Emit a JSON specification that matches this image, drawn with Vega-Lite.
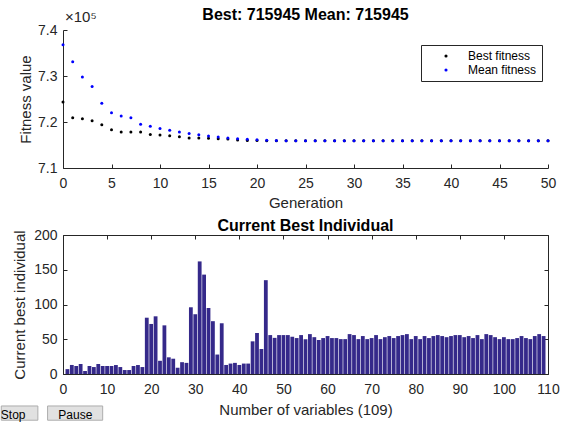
{
  "$schema": "https://vega.github.io/schema/vega-lite/v6.json",
  "padding": {"left": 0, "top": 7, "right": 5, "bottom": 0},
  "spacing": 8,
  "config": {
    "view": {"stroke": null},
    "font": "Liberation Sans",
    "axis": {
      "grid": false,
      "domainColor": "#262626",
      "tickColor": "#262626",
      "labelColor": "#262626",
      "titleColor": "#262626",
      "labelFontSize": 14,
      "titleFontSize": 15,
      "titleFontWeight": "normal",
      "tickSize": -4,
      "labelFlush": false,
      "labelOverlap": false
    },
    "axisX": {"labelPadding": 12, "titlePadding": 5},
    "axisY": {"labelPadding": 10, "titlePadding": 5},
    "title": {"fontSize": 16, "fontWeight": "bold", "color": "#000000"}
  },
  "datasets": {
    "fit": [
      {"generation": 0, "series": "Best fitness", "fitness": 724350},
      {"generation": 1, "series": "Best fitness", "fitness": 720900},
      {"generation": 2, "series": "Best fitness", "fitness": 720700},
      {"generation": 3, "series": "Best fitness", "fitness": 720250},
      {"generation": 4, "series": "Best fitness", "fitness": 719400},
      {"generation": 5, "series": "Best fitness", "fitness": 718300},
      {"generation": 6, "series": "Best fitness", "fitness": 717800},
      {"generation": 7, "series": "Best fitness", "fitness": 717800},
      {"generation": 8, "series": "Best fitness", "fitness": 717800},
      {"generation": 9, "series": "Best fitness", "fitness": 717300},
      {"generation": 10, "series": "Best fitness", "fitness": 717200},
      {"generation": 11, "series": "Best fitness", "fitness": 717000},
      {"generation": 12, "series": "Best fitness", "fitness": 716800},
      {"generation": 13, "series": "Best fitness", "fitness": 716500},
      {"generation": 14, "series": "Best fitness", "fitness": 716500},
      {"generation": 15, "series": "Best fitness", "fitness": 716450},
      {"generation": 16, "series": "Best fitness", "fitness": 716350},
      {"generation": 17, "series": "Best fitness", "fitness": 716300},
      {"generation": 18, "series": "Best fitness", "fitness": 716100},
      {"generation": 19, "series": "Best fitness", "fitness": 716000},
      {"generation": 20, "series": "Best fitness", "fitness": 715980},
      {"generation": 21, "series": "Best fitness", "fitness": 715945},
      {"generation": 22, "series": "Best fitness", "fitness": 715945},
      {"generation": 23, "series": "Best fitness", "fitness": 715945},
      {"generation": 24, "series": "Best fitness", "fitness": 715945},
      {"generation": 25, "series": "Best fitness", "fitness": 715945},
      {"generation": 26, "series": "Best fitness", "fitness": 715945},
      {"generation": 27, "series": "Best fitness", "fitness": 715945},
      {"generation": 28, "series": "Best fitness", "fitness": 715945},
      {"generation": 29, "series": "Best fitness", "fitness": 715945},
      {"generation": 30, "series": "Best fitness", "fitness": 715945},
      {"generation": 31, "series": "Best fitness", "fitness": 715945},
      {"generation": 32, "series": "Best fitness", "fitness": 715945},
      {"generation": 33, "series": "Best fitness", "fitness": 715945},
      {"generation": 34, "series": "Best fitness", "fitness": 715945},
      {"generation": 35, "series": "Best fitness", "fitness": 715945},
      {"generation": 36, "series": "Best fitness", "fitness": 715945},
      {"generation": 37, "series": "Best fitness", "fitness": 715945},
      {"generation": 38, "series": "Best fitness", "fitness": 715945},
      {"generation": 39, "series": "Best fitness", "fitness": 715945},
      {"generation": 40, "series": "Best fitness", "fitness": 715945},
      {"generation": 41, "series": "Best fitness", "fitness": 715945},
      {"generation": 42, "series": "Best fitness", "fitness": 715945},
      {"generation": 43, "series": "Best fitness", "fitness": 715945},
      {"generation": 44, "series": "Best fitness", "fitness": 715945},
      {"generation": 45, "series": "Best fitness", "fitness": 715945},
      {"generation": 46, "series": "Best fitness", "fitness": 715945},
      {"generation": 47, "series": "Best fitness", "fitness": 715945},
      {"generation": 48, "series": "Best fitness", "fitness": 715945},
      {"generation": 49, "series": "Best fitness", "fitness": 715945},
      {"generation": 50, "series": "Best fitness", "fitness": 715945},
      {"generation": 0, "series": "Mean fitness", "fitness": 736800},
      {"generation": 1, "series": "Mean fitness", "fitness": 733100},
      {"generation": 2, "series": "Mean fitness", "fitness": 729800},
      {"generation": 3, "series": "Mean fitness", "fitness": 727700},
      {"generation": 4, "series": "Mean fitness", "fitness": 724100},
      {"generation": 5, "series": "Mean fitness", "fitness": 722000},
      {"generation": 6, "series": "Mean fitness", "fitness": 721300},
      {"generation": 7, "series": "Mean fitness", "fitness": 720900},
      {"generation": 8, "series": "Mean fitness", "fitness": 719500},
      {"generation": 9, "series": "Mean fitness", "fitness": 719100},
      {"generation": 10, "series": "Mean fitness", "fitness": 718600},
      {"generation": 11, "series": "Mean fitness", "fitness": 718200},
      {"generation": 12, "series": "Mean fitness", "fitness": 717800},
      {"generation": 13, "series": "Mean fitness", "fitness": 717500},
      {"generation": 14, "series": "Mean fitness", "fitness": 717250},
      {"generation": 15, "series": "Mean fitness", "fitness": 716950},
      {"generation": 16, "series": "Mean fitness", "fitness": 716750},
      {"generation": 17, "series": "Mean fitness", "fitness": 716500},
      {"generation": 18, "series": "Mean fitness", "fitness": 716350},
      {"generation": 19, "series": "Mean fitness", "fitness": 716250},
      {"generation": 20, "series": "Mean fitness", "fitness": 716150},
      {"generation": 21, "series": "Mean fitness", "fitness": 716050},
      {"generation": 22, "series": "Mean fitness", "fitness": 716000},
      {"generation": 23, "series": "Mean fitness", "fitness": 715945},
      {"generation": 24, "series": "Mean fitness", "fitness": 715945},
      {"generation": 25, "series": "Mean fitness", "fitness": 715945},
      {"generation": 26, "series": "Mean fitness", "fitness": 715945},
      {"generation": 27, "series": "Mean fitness", "fitness": 715945},
      {"generation": 28, "series": "Mean fitness", "fitness": 715945},
      {"generation": 29, "series": "Mean fitness", "fitness": 715945},
      {"generation": 30, "series": "Mean fitness", "fitness": 715945},
      {"generation": 31, "series": "Mean fitness", "fitness": 715945},
      {"generation": 32, "series": "Mean fitness", "fitness": 715945},
      {"generation": 33, "series": "Mean fitness", "fitness": 715945},
      {"generation": 34, "series": "Mean fitness", "fitness": 715945},
      {"generation": 35, "series": "Mean fitness", "fitness": 715945},
      {"generation": 36, "series": "Mean fitness", "fitness": 715945},
      {"generation": 37, "series": "Mean fitness", "fitness": 715945},
      {"generation": 38, "series": "Mean fitness", "fitness": 715945},
      {"generation": 39, "series": "Mean fitness", "fitness": 715945},
      {"generation": 40, "series": "Mean fitness", "fitness": 715945},
      {"generation": 41, "series": "Mean fitness", "fitness": 715945},
      {"generation": 42, "series": "Mean fitness", "fitness": 715945},
      {"generation": 43, "series": "Mean fitness", "fitness": 715945},
      {"generation": 44, "series": "Mean fitness", "fitness": 715945},
      {"generation": 45, "series": "Mean fitness", "fitness": 715945},
      {"generation": 46, "series": "Mean fitness", "fitness": 715945},
      {"generation": 47, "series": "Mean fitness", "fitness": 715945},
      {"generation": 48, "series": "Mean fitness", "fitness": 715945},
      {"generation": 49, "series": "Mean fitness", "fitness": 715945},
      {"generation": 50, "series": "Mean fitness", "fitness": 715945}
    ],
    "bars": [
      {"variable": 1, "value": 7}, {"variable": 2, "value": 13}, {"variable": 3, "value": 11.5}, {"variable": 4, "value": 14.4},
      {"variable": 5, "value": 4.3}, {"variable": 6, "value": 11.5}, {"variable": 7, "value": 10}, {"variable": 8, "value": 14.4},
      {"variable": 9, "value": 11.5}, {"variable": 10, "value": 11.5}, {"variable": 11, "value": 11.5}, {"variable": 12, "value": 12.9},
      {"variable": 13, "value": 10}, {"variable": 14, "value": 5.7}, {"variable": 15, "value": 5.7}, {"variable": 16, "value": 11.5},
      {"variable": 17, "value": 12.9}, {"variable": 18, "value": 10}, {"variable": 19, "value": 81}, {"variable": 20, "value": 72},
      {"variable": 21, "value": 83}, {"variable": 22, "value": 19}, {"variable": 23, "value": 70}, {"variable": 24, "value": 24},
      {"variable": 25, "value": 22}, {"variable": 26, "value": 9}, {"variable": 27, "value": 17}, {"variable": 28, "value": 16},
      {"variable": 29, "value": 96}, {"variable": 30, "value": 86}, {"variable": 31, "value": 162}, {"variable": 32, "value": 143},
      {"variable": 33, "value": 95}, {"variable": 34, "value": 76}, {"variable": 35, "value": 28}, {"variable": 36, "value": 73},
      {"variable": 37, "value": 13}, {"variable": 38, "value": 15}, {"variable": 39, "value": 16}, {"variable": 40, "value": 13},
      {"variable": 41, "value": 15}, {"variable": 42, "value": 15}, {"variable": 43, "value": 47}, {"variable": 44, "value": 59},
      {"variable": 45, "value": 36}, {"variable": 46, "value": 135}, {"variable": 47, "value": 56}, {"variable": 48, "value": 52},
      {"variable": 49, "value": 56}, {"variable": 50, "value": 56}, {"variable": 51, "value": 56}, {"variable": 52, "value": 53.6},
      {"variable": 53, "value": 51.7}, {"variable": 54, "value": 56}, {"variable": 55, "value": 50}, {"variable": 56, "value": 57.4},
      {"variable": 57, "value": 53}, {"variable": 58, "value": 48.8}, {"variable": 59, "value": 51.7}, {"variable": 60, "value": 54.6},
      {"variable": 61, "value": 51.7}, {"variable": 62, "value": 51.7}, {"variable": 63, "value": 50.2}, {"variable": 64, "value": 50.2},
      {"variable": 65, "value": 57.4}, {"variable": 66, "value": 56}, {"variable": 67, "value": 50.2}, {"variable": 68, "value": 54.6},
      {"variable": 69, "value": 50.2}, {"variable": 70, "value": 51.7}, {"variable": 71, "value": 56}, {"variable": 72, "value": 50.2},
      {"variable": 73, "value": 53}, {"variable": 74, "value": 54.6}, {"variable": 75, "value": 51.7}, {"variable": 76, "value": 54.6},
      {"variable": 77, "value": 56}, {"variable": 78, "value": 57.4}, {"variable": 79, "value": 50.2}, {"variable": 80, "value": 54.6},
      {"variable": 81, "value": 50.2}, {"variable": 82, "value": 54.6}, {"variable": 83, "value": 51.7}, {"variable": 84, "value": 54.6},
      {"variable": 85, "value": 56}, {"variable": 86, "value": 54.6}, {"variable": 87, "value": 53}, {"variable": 88, "value": 54.6},
      {"variable": 89, "value": 56}, {"variable": 90, "value": 56}, {"variable": 91, "value": 53}, {"variable": 92, "value": 54.6},
      {"variable": 93, "value": 51.7}, {"variable": 94, "value": 56}, {"variable": 95, "value": 50.2}, {"variable": 96, "value": 57.4},
      {"variable": 97, "value": 56}, {"variable": 98, "value": 53}, {"variable": 99, "value": 50.2}, {"variable": 100, "value": 53},
      {"variable": 101, "value": 50.2}, {"variable": 102, "value": 50.2}, {"variable": 103, "value": 51.7}, {"variable": 104, "value": 54.6},
      {"variable": 105, "value": 51.7}, {"variable": 106, "value": 50.2}, {"variable": 107, "value": 54.6}, {"variable": 108, "value": 57.4},
      {"variable": 109, "value": 54.6}
    ],
    "buttons": [
      {"button": "Stop"},
      {"button": "Pause"}
    ]
  },
  "vconcat": [
    {
      "width": 485,
      "height": 138,
      "title": {"text": "Best: 715945 Mean: 715945", "offset": -13},
      "layer": [
        {
          "data": {"name": "fit"},
          "mark": {"type": "point", "filled": true, "size": 9, "opacity": 1},
          "encoding": {
            "x": {"field": "generation", "type": "quantitative",
                  "scale": {"domain": [0, 50], "nice": false},
                  "axis": {"title": "Generation", "values": [0, 5, 10, 15, 20, 25, 30, 35, 40, 45, 50]}},
            "y": {"field": "fitness", "type": "quantitative",
                  "scale": {"domain": [710000, 740000], "nice": false, "zero": false},
                  "axis": {"title": "Fitness value", "titlePadding": 4, "values": [710000, 720000, 730000, 740000],
                           "labelExpr": "format(datum.value/100000, '.1f')"}},
            "color": {"field": "series", "type": "nominal",
                      "scale": {"domain": ["Best fitness", "Mean fitness"], "range": ["#000000", "#0000ff"]},
                      "legend": {"title": null, "orient": "none", "legendX": 358, "legendY": 15,
                                 "strokeColor": "#262626", "fillColor": "#ffffff", "padding": 5,
                                 "symbolType": "circle", "symbolSize": 10, "symbolOffset": 14,
                                 "labelOffset": 16, "labelFontSize": 12, "labelColor": "#000000", "rowPadding": 2}}
          }
        },
        {
          "data": {"values": [{"label": "×10⁵", "g": 0, "f": 740000}]},
          "mark": {"type": "text", "align": "left", "baseline": "bottom", "dx": 2, "dy": -5, "fontSize": 15, "color": "#262626"},
          "encoding": {
            "x": {"field": "g", "type": "quantitative"},
            "y": {"field": "f", "type": "quantitative"},
            "text": {"field": "label"}
          }
        }
      ]
    },
    {
      "width": 485,
      "height": 139,
      "title": {"text": "Current Best Individual", "offset": -6},
      "layer": [
        {
          "data": {"name": "bars"},
          "mark": {"type": "bar", "width": 3.8, "color": "#35298a"},
          "encoding": {
            "x": {"field": "variable", "type": "quantitative",
                  "scale": {"domain": [0, 110], "nice": false, "padding": 0},
                  "axis": {"title": "Number of variables (109)", "titlePadding": 6, "values": [0, 10, 20, 30, 40, 50, 60, 70, 80, 90, 100, 110]}},
            "y": {"field": "value", "type": "quantitative",
                  "scale": {"domain": [0, 200], "nice": false},
                  "axis": {"title": "Current best individual", "titlePadding": 6, "values": [0, 50, 100, 150, 200]}}
          }
        },
        {
          "data": {"name": "bars"},
          "mark": {"type": "bar", "width": 3.8, "opacity": 0},
          "encoding": {
            "x": {"field": "variable", "type": "quantitative",
                  "scale": {"domain": [0, 110], "nice": false, "padding": 0},
                  "axis": {"orient": "top", "labels": false, "title": null, "values": [0, 10, 20, 30, 40, 50, 60, 70, 80, 90, 100, 110]}},
            "y": {"field": "value", "type": "quantitative",
                  "scale": {"domain": [0, 200], "nice": false},
                  "axis": {"orient": "right", "labels": false, "title": null, "values": [0, 50, 100, 150, 200]}}
          }
        },
        {
          "data": {"name": "buttons"},
          "transform": [{"filter": "datum.button == 'Stop'"}],
          "mark": {"type": "rect", "fill": "#e1e1e1", "stroke": "#adadad", "strokeWidth": 1},
          "encoding": {
            "x": {"datum": -14.0, "type": "quantitative", "axis": null},
            "x2": {"datum": -5.7},
            "y": {"datum": -46, "type": "quantitative", "axis": null},
            "y2": {"datum": -66.5}
          }
        },
        {
          "data": {"name": "buttons"},
          "transform": [{"filter": "datum.button == 'Pause'"}],
          "mark": {"type": "rect", "fill": "#e1e1e1", "stroke": "#adadad", "strokeWidth": 1},
          "encoding": {
            "x": {"datum": -3.5, "type": "quantitative", "axis": null},
            "x2": {"datum": 9.0},
            "y": {"datum": -46, "type": "quantitative", "axis": null},
            "y2": {"datum": -66.5}
          }
        },
        {
          "data": {"name": "buttons"},
          "transform": [{"filter": "datum.button == 'Stop'"}],
          "mark": {"type": "text", "fontSize": 12, "color": "#000000", "baseline": "middle", "align": "center"},
          "encoding": {
            "x": {"datum": -11.3, "type": "quantitative", "axis": null},
            "y": {"datum": -59, "type": "quantitative", "axis": null},
            "text": {"field": "button"}
          }
        },
        {
          "data": {"name": "buttons"},
          "transform": [{"filter": "datum.button == 'Pause'"}],
          "mark": {"type": "text", "fontSize": 12, "color": "#000000", "baseline": "middle", "align": "center"},
          "encoding": {
            "x": {"datum": 2.8, "type": "quantitative", "axis": null},
            "y": {"datum": -59, "type": "quantitative", "axis": null},
            "text": {"field": "button"}
          }
        }
      ],
      "resolve": {"axis": {"x": "independent", "y": "independent"}}
    }
  ]
}
